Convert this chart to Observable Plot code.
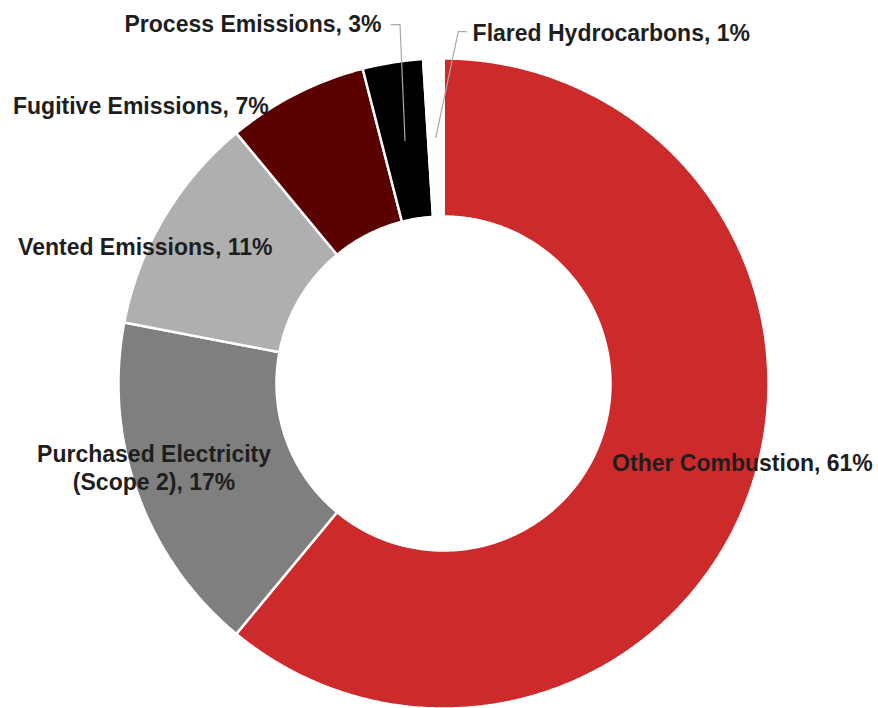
<!DOCTYPE html>
<html><head><meta charset="utf-8">
<script src="https://cdn.jsdelivr.net/npm/d3@7"></script>
<script src="https://cdn.jsdelivr.net/npm/@observablehq/plot@0.6"></script>
<style>body{margin:0;background:#fff}</style>
</head><body><div id="chart"></div>
<script>
// ---- data ----
const categories = ["Other Combustion", "Purchased Electricity (Scope 2)", "Vented Emissions", "Fugitive Emissions", "Process Emissions", "Flared Hydrocarbons"];
const values = [61, 17, 11, 7, 3, 1];
const colors = ["#cc2a2b", "#7f7f7f", "#afafaf", "#5a0000", "#000000", "#ffffff"];

// ---- layout (pixels) ----
const W = 878, H = 708, CX = 443, CY = 383, R = 325, R0 = 167;
const labelOffsets = [[67.5, -5], [-58, 0], [-86.5, -12], [-191, -59], [-152, -118], [175.5, -106]];
const leaders = { 4: [[147, 2], [138, 2]], 5: [[-153, 0], [-145, 0]] };

const inner = R0 / R, rm = (1 + inner) / 2;
const total = d3.sum(values);
let acc = 0;
const slices = categories.map((c, i) => {
  const a0 = acc / total * 2 * Math.PI; acc += values[i];
  const a1 = acc / total * 2 * Math.PI;
  return {c, i, v: values[i], a0, a1, mid: (a0 + a1) / 2};
});
const pts = [];
for (const s of slices) {
  const n = Math.max(2, Math.ceil((s.a1 - s.a0) / (Math.PI / 360)));
  const ring = [];
  for (let k = 0; k <= n; k++) { const a = s.a0 + (s.a1 - s.a0) * k / n; ring.push({c: s.c, x: Math.sin(a), y: Math.cos(a)}); }
  for (let k = n; k >= 0; k--) { const a = s.a0 + (s.a1 - s.a0) * k / n; ring.push({c: s.c, x: Math.sin(a) * inner, y: Math.cos(a) * inner}); }
  ring.push(ring[0]);
  pts.push(...ring);
}
const labels = slices.map(s => {
  const mx = Math.sin(s.mid) * rm, my = Math.cos(s.mid) * rm;
  const [dx, dy] = labelOffsets[s.i];
  return {c: s.c, mx, my, x: mx + dx / R, y: my - dy / R,
    text: s.c.replace(" (", "\n(") + ", " + s.v + "%"};
});
const leaderPts = [];
for (const l of labels) {
  const idx = categories.indexOf(l.c);
  if (!leaders[idx]) continue;
  leaderPts.push({c: l.c, x: l.mx, y: l.my});
  for (const [dx, dy] of leaders[idx]) leaderPts.push({c: l.c, x: l.x + dx / R, y: l.y - dy / R});
}

const chart = Plot.plot({
  width: W, height: H, margin: 0,
  style: {fontFamily: "'Liberation Sans', Arial, sans-serif", background: "#fff"},
  x: {domain: [-1, 1], range: [CX - R, CX + R], axis: null},
  y: {domain: [-1, 1], range: [CY + R, CY - R], axis: null},
  color: {domain: categories, range: colors},
  marks: [
    Plot.line(pts, {x: "x", y: "y", z: "c", fill: "c", stroke: "white", strokeWidth: 2.5, strokeLinejoin: "miter"}),
    Plot.line(leaderPts, {x: "x", y: "y", z: "c", stroke: "#a8a8a8", strokeWidth: 1.2}),
    Plot.text(labels, {x: "x", y: "y", text: "text", fontSize: 23, fontWeight: "bold", fill: "#1e1e1e", lineAnchor: "middle", lineHeight: 1.22, textAnchor: "middle"})
  ]
});
document.getElementById("chart").appendChild(chart);
</script>
</body></html>
